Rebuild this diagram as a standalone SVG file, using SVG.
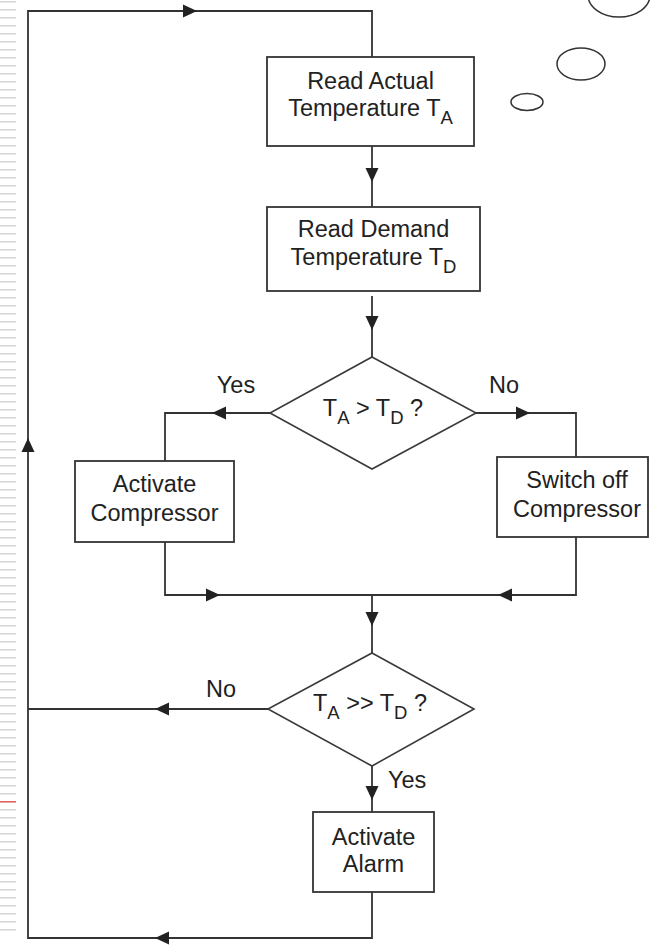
<svg xmlns="http://www.w3.org/2000/svg" width="650" height="945" viewBox="0 0 650 945">
  <style>
    .box { fill: #fff; stroke: #333; stroke-width: 1.8; }
    .dia { fill: #fff; stroke: #3a3a3a; stroke-width: 1.6; }
    .ln { fill: none; stroke: #333; stroke-width: 1.8; }
    .txt { font-family: "Liberation Sans", Arial, sans-serif; font-size: 23.5px; fill: #222; }
    .c { text-anchor: middle; }
    .sub { font-size: 18.5px; }
    .bub { fill: none; stroke: #333; stroke-width: 1.5; }
  </style>
  <defs>
    <pattern id="stripes" patternUnits="userSpaceOnUse" x="0" y="1" width="16" height="8">
      <rect x="0" y="0" width="16" height="1.5" fill="#d4d4d4"/>
    </pattern>
    <marker id="arr" markerUnits="userSpaceOnUse" markerWidth="14" markerHeight="14" viewBox="0 0 14 14" refX="14" refY="7" orient="auto">
      <path d="M0,0.5 L14,7 L0,13.5 z" fill="#222"/>
    </marker>
  </defs>
  <rect width="650" height="945" fill="#fff"/>

  <!-- left margin stripes -->
  <rect x="0" y="0" width="16" height="932" fill="url(#stripes)"/>
  <rect x="0" y="801" width="16" height="1.5" fill="#e06060"/>

  <!-- bubbles -->
  <ellipse class="bub" cx="619" cy="-5" rx="31" ry="22"/>
  <ellipse class="bub" cx="581" cy="64" rx="24" ry="16"/>
  <ellipse class="bub" cx="527" cy="102" rx="16" ry="8.5"/>

  <g id="connectors">
    <path class="ln" d="M372,892 L372,938 L155,938" marker-end="url(#arr)"/>
    <path class="ln" d="M155,938 L28,938 L28,438" marker-end="url(#arr)"/>
    <path class="ln" d="M28,438 L28,11 L197,11" marker-end="url(#arr)"/>
    <path class="ln" d="M197,11 L372,11 L372,57"/>
    <path class="ln" d="M372,146 L372,182" marker-end="url(#arr)"/>
    <path class="ln" d="M372,182 L372,207"/>
    <path class="ln" d="M372,296 L372,330" marker-end="url(#arr)"/>
    <path class="ln" d="M372,330 L372,357"/>
    <path class="ln" d="M270,413 L212,413" marker-end="url(#arr)"/>
    <path class="ln" d="M212,413 L165,413 L165,461"/>
    <path class="ln" d="M476,413 L530,413" marker-end="url(#arr)"/>
    <path class="ln" d="M530,413 L576,413 L576,457"/>
    <path class="ln" d="M165,542 L165,595 L220,595" marker-end="url(#arr)"/>
    <path class="ln" d="M220,595 L373,595"/>
    <path class="ln" d="M576,537 L576,595 L498,595" marker-end="url(#arr)"/>
    <path class="ln" d="M498,595 L372,595"/>
    <path class="ln" d="M372,595 L372,626" marker-end="url(#arr)"/>
    <path class="ln" d="M372,626 L372,653"/>
    <path class="ln" d="M268,709 L155,709" marker-end="url(#arr)"/>
    <path class="ln" d="M155,709 L28,709"/>
    <path class="ln" d="M372,766 L372,800" marker-end="url(#arr)"/>
    <path class="ln" d="M372,800 L372,812"/>
    <text class="txt c" x="236" y="393">Yes</text>
    <text class="txt c" x="504" y="393">No</text>
    <text class="txt c" x="221" y="697">No</text>
    <text class="txt" x="388" y="788">Yes</text>
  </g>

  <g id="read-actual">
    <rect class="box" x="267" y="57" width="207" height="89"/>
    <text class="txt c" x="370.5" y="89">Read Actual</text>
    <text class="txt c" x="370.5" y="116">Temperature T<tspan class="sub" dy="8">A</tspan></text>
  </g>

  <g id="read-demand">
    <rect class="box" x="267" y="207" width="213" height="84"/>
    <text class="txt c" x="373.5" y="237">Read Demand</text>
    <text class="txt c" x="373.5" y="265">Temperature T<tspan class="sub" dy="8">D</tspan></text>
  </g>

  <g id="decision-1">
    <polygon class="dia" points="372,357 476,413 372,469 270,413"/>
    <text class="txt c" x="373" y="416">T<tspan class="sub" dy="8">A</tspan><tspan dy="-8"> &gt; T</tspan><tspan class="sub" dy="8">D</tspan><tspan dy="-8"> ?</tspan></text>
  </g>

  <g id="activate-compressor">
    <rect class="box" x="75" y="461" width="159" height="81"/>
    <text class="txt c" x="154.5" y="492">Activate</text>
    <text class="txt c" x="154.5" y="521">Compressor</text>
  </g>

  <g id="switch-off-compressor">
    <rect class="box" x="497" y="457" width="151" height="80"/>
    <text class="txt c" x="577" y="488">Switch off</text>
    <text class="txt c" x="577" y="517">Compressor</text>
  </g>

  <g id="decision-2">
    <polygon class="dia" points="372,653 474,709 372,766 268,709"/>
    <text class="txt c" x="370" y="711">T<tspan class="sub" dy="8">A</tspan><tspan dy="-8"> &gt;&gt; T</tspan><tspan class="sub" dy="8">D</tspan><tspan dy="-8"> ?</tspan></text>
  </g>

  <g id="activate-alarm">
    <rect class="box" x="313" y="812" width="121" height="80"/>
    <text class="txt c" x="373.5" y="845">Activate</text>
    <text class="txt c" x="373.5" y="872">Alarm</text>
  </g>
</svg>
